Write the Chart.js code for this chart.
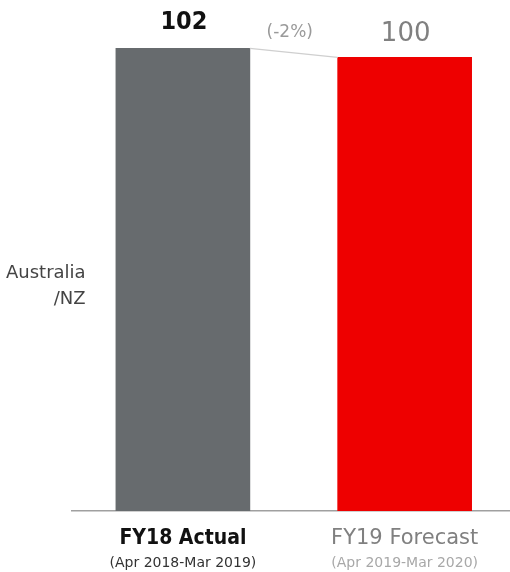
<!DOCTYPE html>
<html>
<head>
<meta charset="utf-8">
<script src="https://cdn.jsdelivr.net/npm/chart.js@4/dist/chart.umd.min.js"></script>
<style>
  html, body { margin: 0; padding: 0; background: #ffffff; }
  #wrap { width: 510px; height: 572px; position: relative; }
</style>
</head>
<body>
<div id="wrap"><canvas id="chart"></canvas></div>
<script>
// Revenue index, Australia/NZ
const categories = ['FY18 Actual', 'FY19 Forecast'];
const periods = ['(Apr 2018-Mar 2019)', '(Apr 2019-Mar 2020)'];
const values = [102, 100];
const regionLabel = ['Australia', '/NZ'];

const barColors = ['#676b6e', '#ee0000'];
const valueColors = ['#111111', '#808080'];
const categoryColors = ['#111111', '#808080'];
const periodColors = ['#333333', '#a8a8a8'];

const FAMILY = '"DejaVu Sans", Verdana, sans-serif';
const BOLD_FAMILY = '"DejaVu Sans Condensed", "DejaVu Sans", Verdana, sans-serif';

const positions = categories.map((_, i) => i);

// Value labels above bars plus the connector line and % change between them
const annotatePlugin = {
  id: 'annotate',
  afterDatasetsDraw(chart) {
    const ctx = chart.ctx;
    const bars = chart.getDatasetMeta(0).data;
    ctx.save();
    // connector between the bar tops
    const a = bars[0], b = bars[1];
    ctx.strokeStyle = '#cfcfcf';
    ctx.lineWidth = 1.2;
    ctx.beginPath();
    ctx.moveTo(a.x + a.width / 2, a.y);
    ctx.lineTo(b.x - b.width / 2, b.y);
    ctx.stroke();

    // value labels
    ctx.textAlign = 'center';
    ctx.textBaseline = 'alphabetic';
    bars.forEach((bar, i) => {
      ctx.fillStyle = valueColors[i];
      ctx.font = i === 0 ? 'bold 25px ' + BOLD_FAMILY : '26px ' + FAMILY;
      ctx.fillText(String(values[i]), bar.x + 1, bar.y - (i === 0 ? 19 : 16));
    });

    // percentage change
    const pct = Math.round((values[1] - values[0]) / values[0] * 100);
    ctx.fillStyle = '#9a9a9a';
    ctx.font = '17px ' + FAMILY;
    ctx.fillText('(' + (pct < 0 ? '-' : '+') + Math.abs(pct) + '%)', (a.x + a.width / 2 + b.x - b.width / 2) / 2 - 4, 37);
    ctx.restore();
  }
};

const indexTicks = (scale) => { scale.ticks = positions.map(v => ({ value: v })); };

new Chart(document.getElementById('chart'), {
  type: 'bar',
  data: {
    datasets: [{
      data: values.map((v, i) => ({ x: positions[i], y: v })),
      backgroundColor: barColors,
      borderWidth: 0,
      barThickness: 134
    }]
  },
  options: {
    responsive: true,
    maintainAspectRatio: false,
    animation: false,
    layout: { padding: { top: 3, left: 0, right: 0, bottom: 0 } },
    plugins: { legend: { display: false }, tooltip: { enabled: false } },
    scales: {
      x: {
        type: 'linear',
        position: 'bottom',
        weight: 0,
        min: -0.5,
        max: 1.475,
        offset: false,
        grid: { display: false, drawTicks: false },
        border: { display: true, color: '#a0a0a0', width: 1.5 },
        afterBuildTicks: indexTicks,
        afterFit: (s) => { s.height = 38; },
        ticks: {
          autoSkip: false,
          maxRotation: 0,
          padding: 15,
          color: (c) => categoryColors[c.index],
          font: (c) => c.index === 0
            ? { family: BOLD_FAMILY, size: 21, weight: 'bold' }
            : { family: FAMILY, size: 21, weight: 'normal' },
          callback: (v) => categories[v]
        }
      },
      x2: {
        type: 'linear',
        position: 'bottom',
        weight: 1,
        min: -0.5,
        max: 1.475,
        offset: false,
        grid: { display: false, drawTicks: false },
        border: { display: false },
        afterBuildTicks: indexTicks,
        afterFit: (s) => { s.height = 23; },
        ticks: {
          autoSkip: false,
          maxRotation: 0,
          padding: 6,
          color: (c) => periodColors[c.index],
          font: { family: FAMILY, size: 14 },
          callback: (v) => periods[v]
        }
      },
      y: {
        min: 0,
        max: 112,
        grid: { display: false, drawTicks: false },
        border: { display: false },
        // single label row for the region, placed mid-height
        afterBuildTicks: (s) => { s.ticks = [{ value: 49.6 }]; },
        afterFit: (s) => { s.width = 72; },
        ticks: {
          mirror: true,
          crossAlign: 'far',
          padding: -66,
          color: '#444444',
          font: { family: FAMILY, size: 18, lineHeight: 1.45 },
          callback: () => regionLabel
        }
      }
    }
  },
  plugins: [annotatePlugin]
});
</script>
</body>
</html>
